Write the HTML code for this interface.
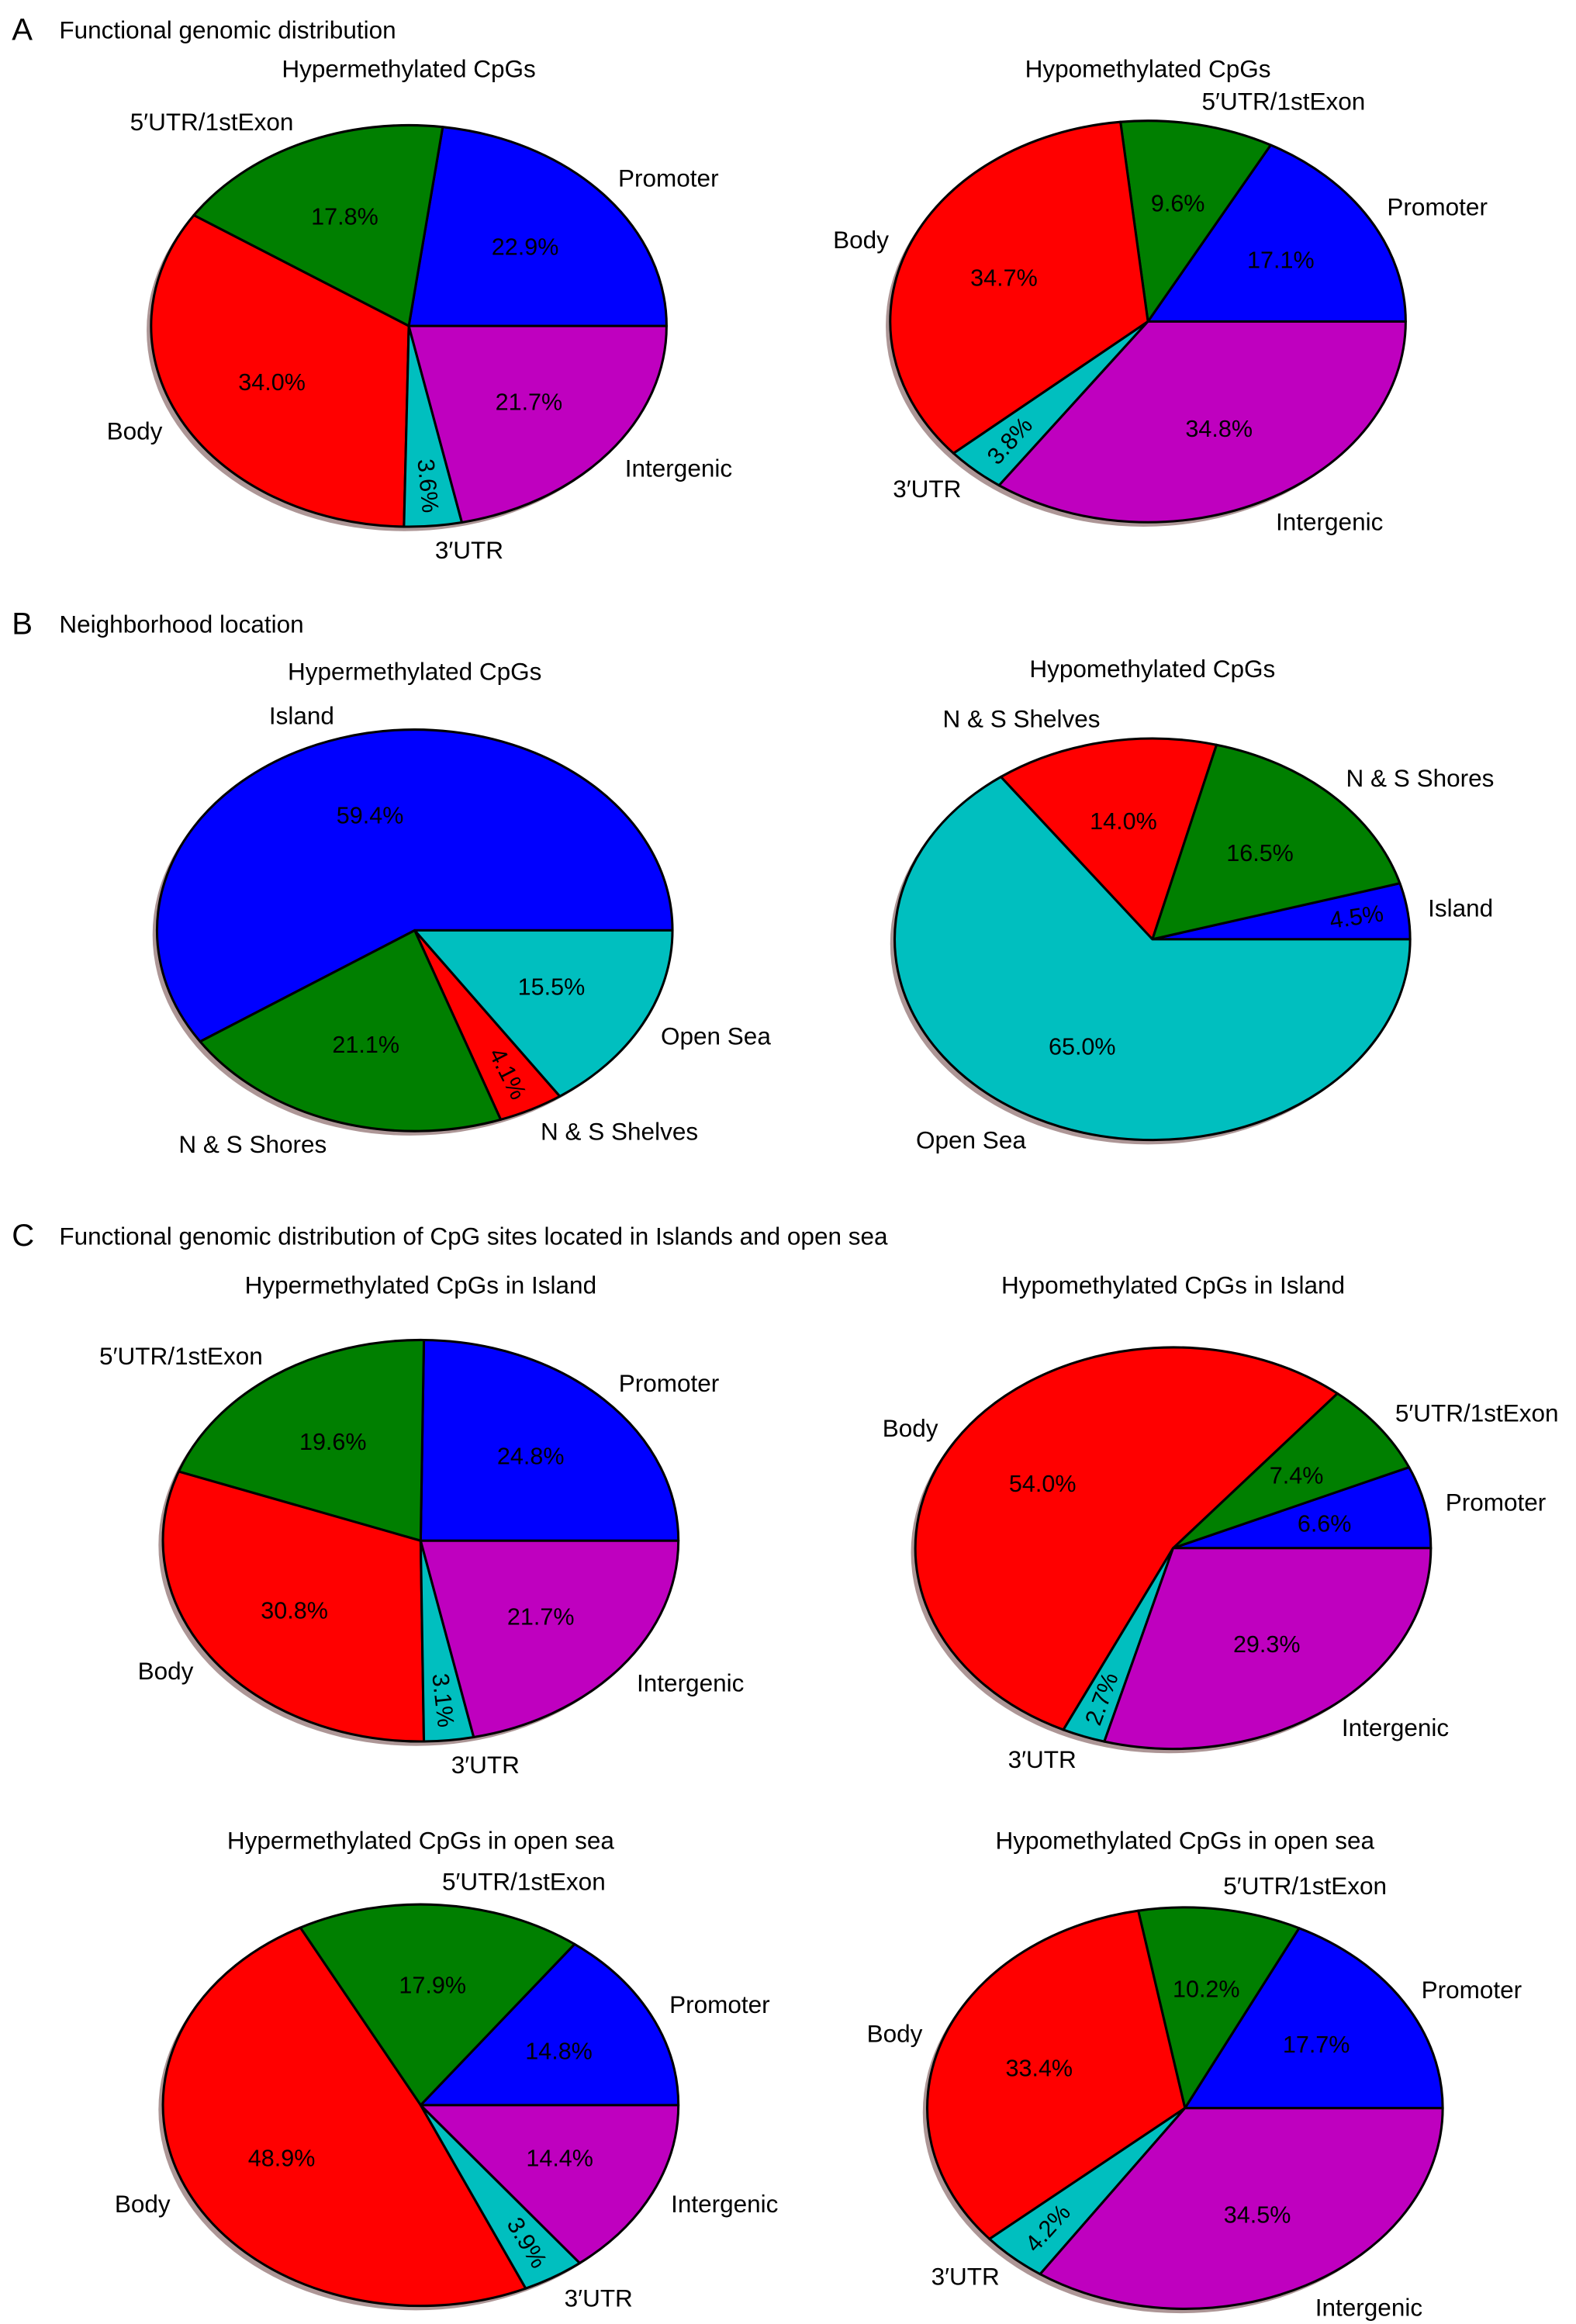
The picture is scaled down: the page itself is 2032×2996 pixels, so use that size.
<!DOCTYPE html>
<html><head><meta charset="utf-8">
<style>
html,body{margin:0;padding:0;background:#fff;}
svg{display:block;font-family:"Liberation Sans",sans-serif;}
</style></head>
<body>
<svg id="fig" width="2032" height="2996" viewBox="0 0 1064 1568.7" xmlns="http://www.w3.org/2000/svg">
<g>
<text x="8" y="27" font-size="21">A</text>
<text x="40" y="26" font-size="16.5">Functional genomic distribution</text>
</g>
<g>
<text x="8" y="428" font-size="21">B</text>
<text x="40" y="427" font-size="16.5">Neighborhood location</text>
</g>
<g>
<text x="8" y="841" font-size="21">C</text>
<text x="40" y="840" font-size="16.5">Functional genomic distribution of CpG sites located in Islands and open sea</text>
</g>
</svg>
<script>
const funcCats = ["Promoter","5\u2032UTR/1stExon","Body","3\u2032UTR","Intergenic"];
const funcColors = ["#0000ff","#007f00","#ff0000","#00bfbf","#bf00bf"];
const nbCats = ["Island","N & S Shores","N & S Shelves","Open Sea"];
const nbColors = ["#0000ff","#007f00","#ff0000","#00bfbf"];

const aHyperValues = [22.9,17.8,34.0,3.6,21.7];
const aHypoValues = [17.1,9.6,34.7,3.8,34.8];
const bHyperValues = [59.4,21.1,4.1,15.5];
const bHypoValues = [4.5,16.5,14.0,65.0];
const cHyperIslandValues = [24.8,19.6,30.8,3.1,21.7];
const cHypoIslandValues = [6.6,7.4,54.0,2.7,29.3];
const cHyperSeaValues = [14.8,17.9,48.9,3.9,14.4];
const cHypoSeaValues = [17.7,10.2,33.4,4.2,34.5];

const charts = [
 {name:"a-hyper",title:"Hypermethylated CpGs",vals:aHyperValues,cats:funcCats,cols:funcColors,cx:276,cy:220,ty:52},
 {name:"a-hypo",title:"Hypomethylated CpGs",vals:aHypoValues,cats:funcCats,cols:funcColors,cx:775,cy:217,ty:52},
 {name:"b-hyper",title:"Hypermethylated CpGs",vals:bHyperValues,cats:nbCats,cols:nbColors,cx:280,cy:628,ty:459},
 {name:"b-hypo",title:"Hypomethylated CpGs",vals:bHypoValues,cats:nbCats,cols:nbColors,cx:778,cy:634,ty:457},
 {name:"c-hyper-island",title:"Hypermethylated CpGs in Island",vals:cHyperIslandValues,cats:funcCats,cols:funcColors,cx:284,cy:1040,ty:873},
 {name:"c-hypo-island",title:"Hypomethylated CpGs in Island",vals:cHypoIslandValues,cats:funcCats,cols:funcColors,cx:792,cy:1045,ty:873},
 {name:"c-hyper-sea",title:"Hypermethylated CpGs in open sea",vals:cHyperSeaValues,cats:funcCats,cols:funcColors,cx:284,cy:1421,ty:1248},
 {name:"c-hypo-sea",title:"Hypomethylated CpGs in open sea",vals:cHypoSeaValues,cats:funcCats,cols:funcColors,cx:800,cy:1423,ty:1248}
];
const NS="http://www.w3.org/2000/svg";
const svg=document.getElementById("fig");
const RX=174, RY=135.5;
function mk(tag,attrs,parent){const e=document.createElementNS(NS,tag);for(const k in attrs)e.setAttribute(k,attrs[k]);parent.appendChild(e);return e;}
function pt(c,a,fx,fy){if(fy===undefined)fy=fx;return [c.cx+RX*fx*Math.cos(a), c.cy-RY*fy*Math.sin(a)];}
charts.forEach(c=>{
 const g=mk("g",{},svg);
 
 
 const t=mk("text",{x:c.cx,y:c.ty,"font-size":16.5,"text-anchor":"middle"},g);
 t.textContent=c.title;
 
 
 const sh=mk("ellipse",{cx:c.cx-3,cy:c.cy+3,rx:RX,ry:RY,fill:"#8a6a6a","fill-opacity":0.7},g);
 
 
 const total=c.vals.reduce((a,b)=>a+b,0);
 let a0=0;
 c.vals.forEach((v,i)=>{
  const span=v/total*2*Math.PI, a1=a0+span, am=a0+span/2;
  const p0=pt(c,a0,1), p1=pt(c,a1,1);
  const large=span>Math.PI?1:0;
  const w=mk("path",{d:`M${c.cx},${c.cy} L${p0[0]},${p0[1]} A${RX},${RY} 0 ${large} 0 ${p1[0]},${p1[1]} Z`,fill:c.cols[i],stroke:"#000","stroke-width":1.6,"stroke-linejoin":"round"},g);
  
  
  let rot=0, pf=0.6;
  if(v<5){rot=-am*180/Math.PI; if(Math.cos(am)<0) rot+=180; pf=0.8;}
  const pp=pt(c,am,pf);
  const pc=mk("text",{x:pp[0],y:pp[1]+5.5,"font-size":16,"text-anchor":"middle",transform:`rotate(${rot} ${pp[0]} ${pp[1]})`},g);
  pc.textContent=v.toFixed(1)+"%";
  
  
  const lp=pt(c,am,1.08,1.12);
  const lb=mk("text",{x:lp[0],y:lp[1]+6,"font-size":16.5,"text-anchor":Math.cos(am)>=0?"start":"end"},g);
  lb.textContent=c.cats[i];
  
  
  a0=a1;
 });
});
</script>
</body></html>
